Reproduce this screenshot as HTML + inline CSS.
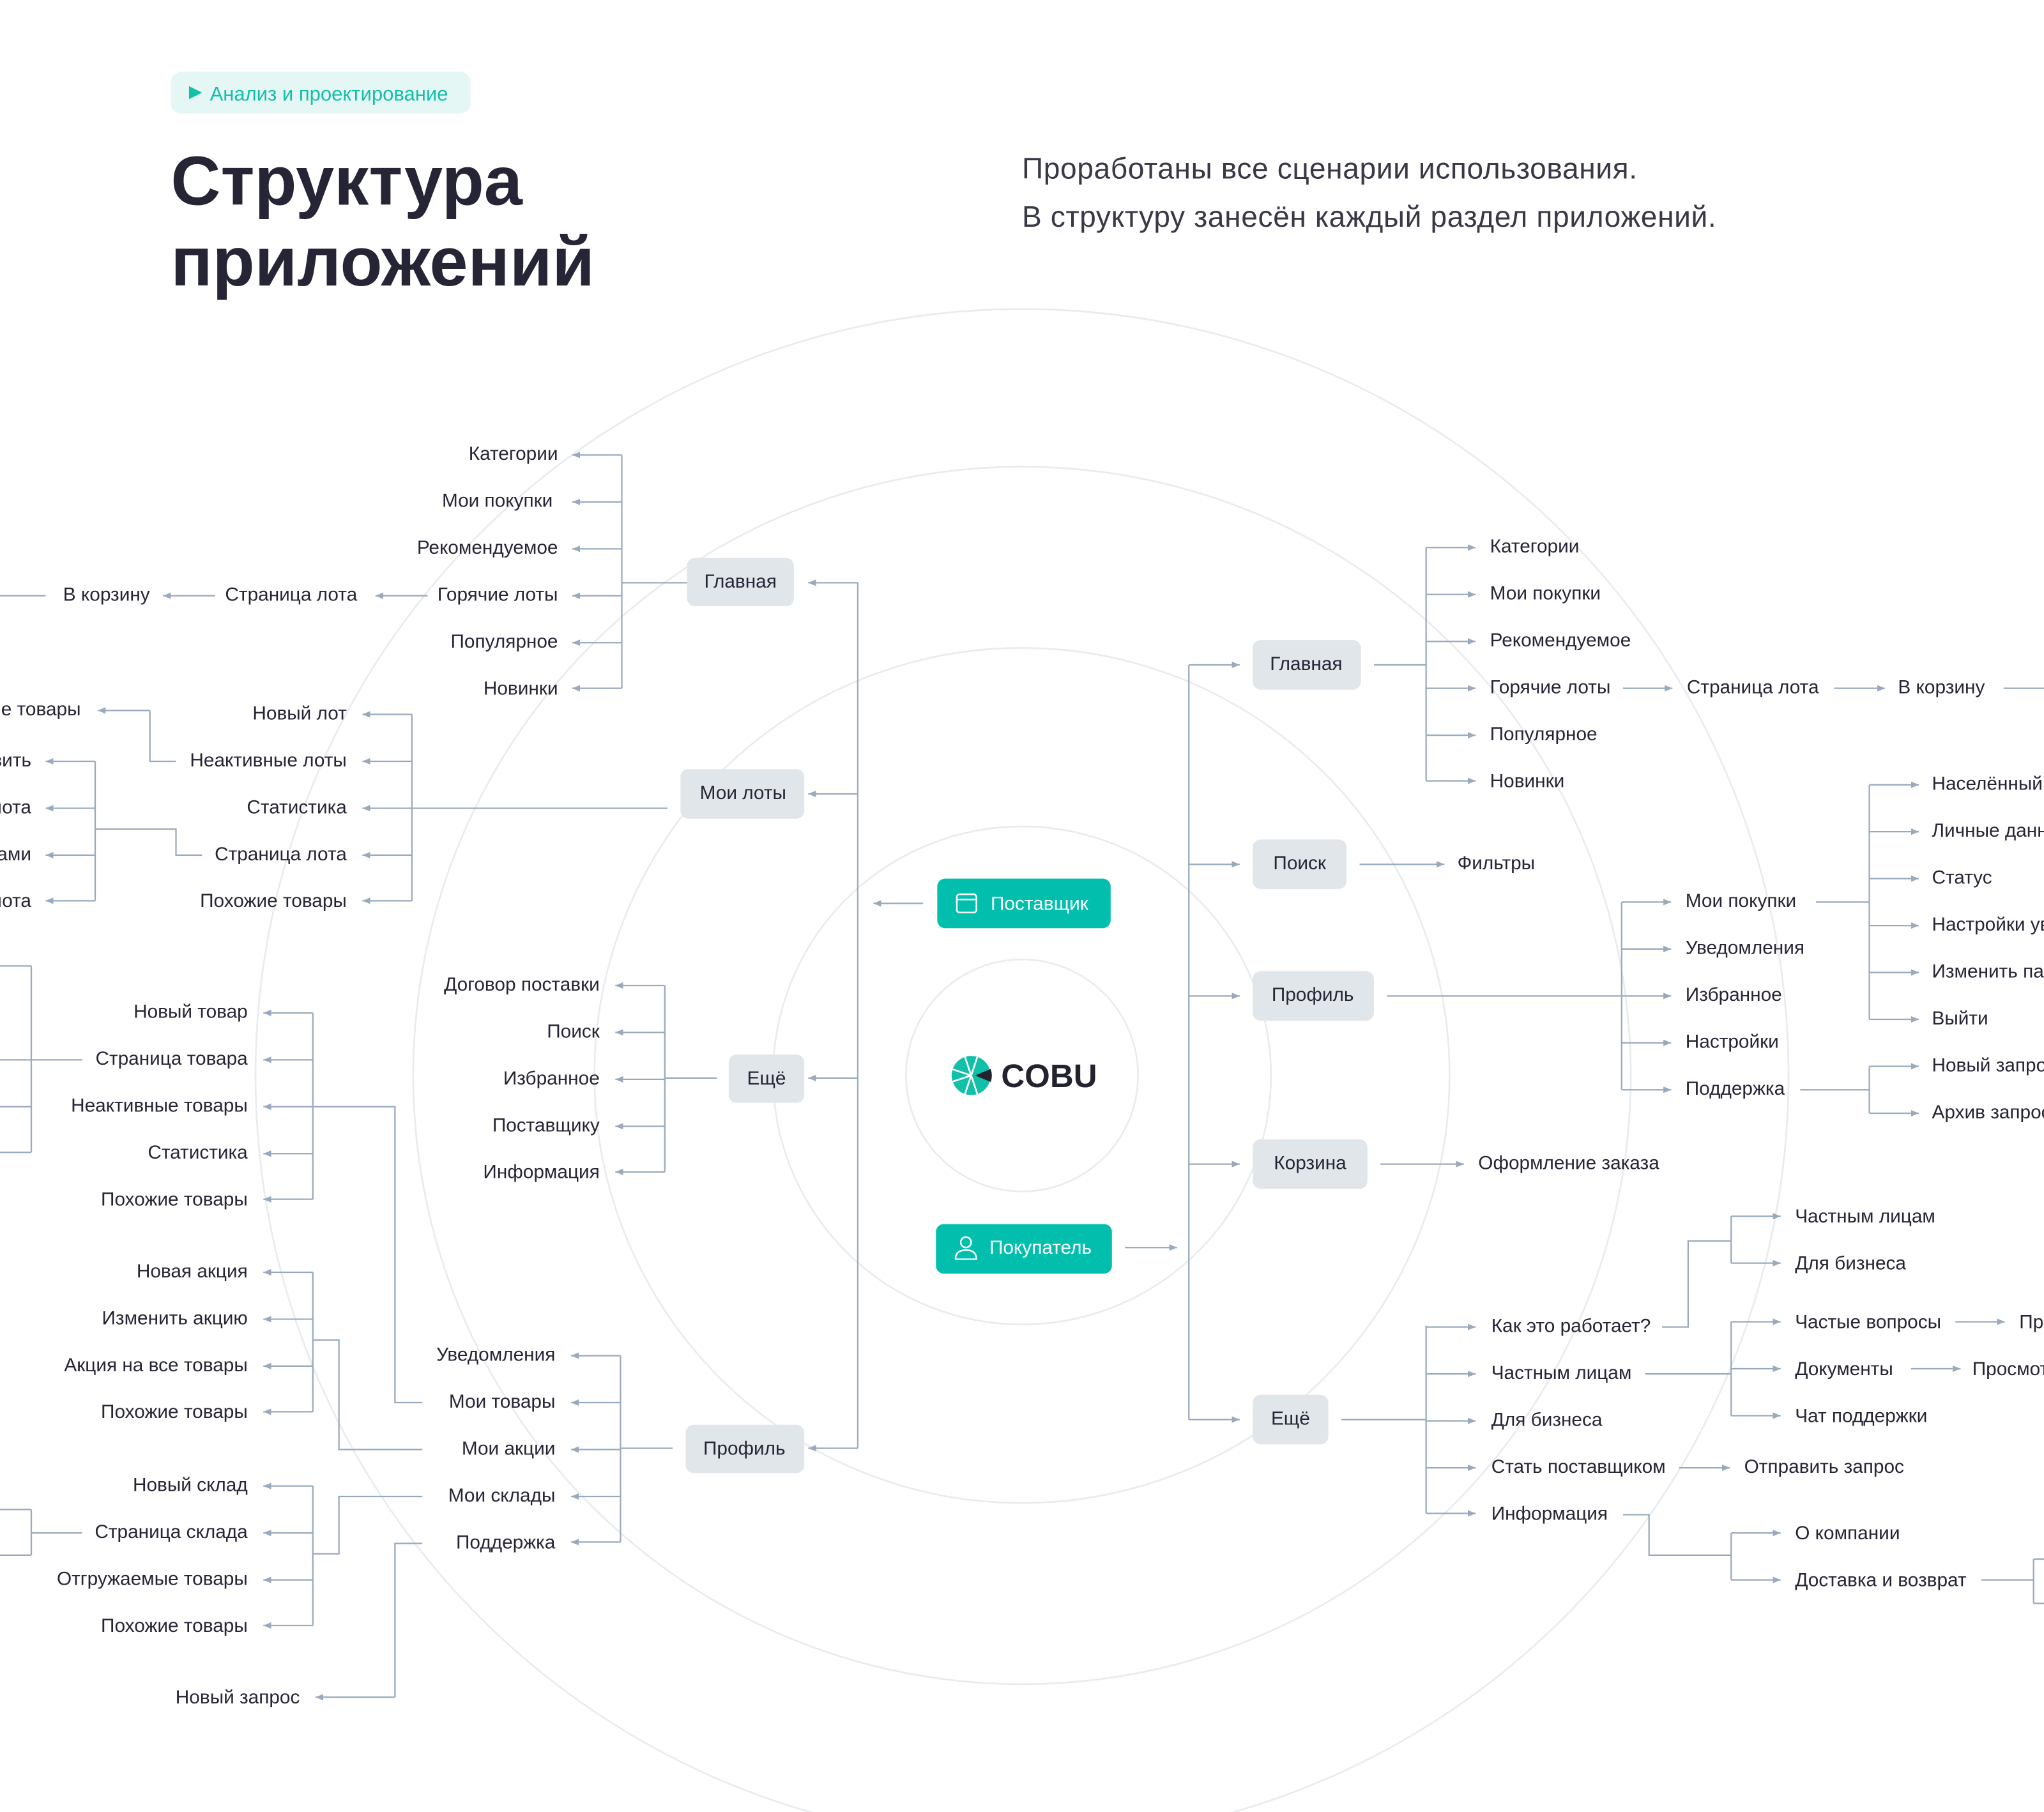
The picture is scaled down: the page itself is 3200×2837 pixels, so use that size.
<!DOCTYPE html>
<html><head><meta charset="utf-8"><style>
html,body{margin:0;padding:0;background:#fff}
svg{display:block}
text{font-family:"Liberation Sans",sans-serif;fill:#262536}
.t{font-size:14.6px;dominant-baseline:middle}
.r{text-anchor:end}
.p{font-size:14.6px;dominant-baseline:middle;text-anchor:middle}
.l{stroke:#98aabd;stroke-width:1.1;fill:none}
.c{stroke:#e8ecef;stroke-width:1.3;fill:none}
.n{fill:#e1e6ea}
</style></head><body>
<svg width="3200" height="2837" viewBox="0 0 1568 1390" xmlns="http://www.w3.org/2000/svg">
<defs><marker id="a" markerUnits="userSpaceOnUse" markerWidth="6" markerHeight="6" refX="6" refY="3" orient="auto"><path d="M0,0.5 L6,3 L0,5.5z" fill="#98aabd"/></marker></defs>
<circle class="c" cx="784" cy="825" r="89"/>
<circle class="c" cx="784" cy="825" r="191"/>
<circle class="c" cx="784" cy="825" r="328"/>
<circle class="c" cx="784" cy="825" r="467"/>
<circle class="c" cx="784" cy="825" r="588"/>

<!-- header -->
<rect x="131" y="55" width="230" height="32" rx="8" fill="#e5f7f4"/>
<path d="M145,66 L155,71 L145,76z" fill="#12bfa8"/>
<text x="161" y="77" style="font-size:15.2px;fill:#12bfa8">Анализ и проектирование</text>
<text x="131" y="157" style="font-size:53px;font-weight:bold">Структура</text>
<text x="131" y="219" style="font-size:53px;font-weight:bold">приложений</text>
<text x="784" y="137" style="font-size:22.6px;fill:#383846;letter-spacing:0.3px">Проработаны все сценарии использования.</text>
<text x="784" y="174" style="font-size:22.6px;fill:#383846;letter-spacing:0.3px">В структуру занесён каждый раздел приложений.</text>

<!-- logo -->
<g transform="translate(745,825)">
<circle r="15" fill="#12bfa8"/>
<g stroke="#fff" stroke-width="1.3"><line x1="0" y1="0" x2="-5" y2="-15"/><line x1="0" y1="0" x2="5" y2="-15"/><line x1="0" y1="0" x2="-15" y2="-5"/><line x1="0" y1="0" x2="-15" y2="5"/><line x1="0" y1="0" x2="-5" y2="15"/><line x1="0" y1="0" x2="5" y2="15"/></g>
<path d="M3,0 L15,-5 A15,15 0 0 1 15,5z" fill="#23222f"/>
</g>
<text x="768" y="834" style="font-size:25px;font-weight:bold;fill:#23222f">COBU</text>

<!-- center pills -->
<rect x="719" y="674" width="133" height="38" rx="6" fill="#02bfad"/>
<rect x="734" y="686" width="15" height="14" rx="2" fill="none" stroke="#fff" stroke-width="1.2"/><line x1="734" y1="690" x2="749" y2="690" stroke="#fff" stroke-width="1.2"/>
<text x="760" y="694" class="t" style="fill:#fff;font-size:14.6px">Поставщик</text>
<rect x="718" y="939" width="135" height="38" rx="6" fill="#02bfad"/>
<circle cx="741" cy="953" r="4" fill="none" stroke="#fff" stroke-width="1.2"/><path d="M733,966 Q733,959 741,959 Q749,959 749,966z" fill="none" stroke="#fff" stroke-width="1.2"/>
<text x="759" y="958" class="t" style="fill:#fff;font-size:14.6px">Покупатель</text>
<line class="l" x1="708" y1="693" x2="670" y2="693" marker-end="url(#a)"/>
<line class="l" x1="863" y1="957" x2="903" y2="957" marker-end="url(#a)"/>

<!-- LEFT main bus -->
<path class="l" d="M658,447 V1111"/>
<line class="l" x1="658" y1="447" x2="620" y2="447" marker-end="url(#a)"/>
<line class="l" x1="658" y1="609" x2="620" y2="609" marker-end="url(#a)"/>
<line class="l" x1="658" y1="827" x2="620" y2="827" marker-end="url(#a)"/>
<line class="l" x1="658" y1="1111" x2="620" y2="1111" marker-end="url(#a)"/>

<!-- Главная left -->
<rect class="n" x="527" y="428" width="82" height="37" rx="6"/><text class="p" x="568" y="447">Главная</text>
<path class="l" d="M527,447 H477 M477,349 V528"/>
<line class="l" x1="477" y1="349" x2="439" y2="349" marker-end="url(#a)"/>
<line class="l" x1="477" y1="385" x2="439" y2="385" marker-end="url(#a)"/>
<line class="l" x1="477" y1="421" x2="439" y2="421" marker-end="url(#a)"/>
<line class="l" x1="477" y1="457" x2="439" y2="457" marker-end="url(#a)"/>
<line class="l" x1="477" y1="493" x2="439" y2="493" marker-end="url(#a)"/>
<line class="l" x1="477" y1="528" x2="439" y2="528" marker-end="url(#a)"/>
<text class="t r" x="428" y="349">Категории</text>
<text class="t r" x="424" y="385">Мои покупки</text>
<text class="t r" x="428" y="421">Рекомендуемое</text>
<text class="t r" x="428" y="457">Горячие лоты</text>
<text class="t r" x="428" y="493">Популярное</text>
<text class="t r" x="428" y="529">Новинки</text>
<line class="l" x1="328" y1="457" x2="288" y2="457" marker-end="url(#a)"/>
<text class="t r" x="274" y="457">Страница лота</text>
<line class="l" x1="165" y1="457" x2="125" y2="457" marker-end="url(#a)"/>
<text class="t r" x="115" y="457">В корзину</text>
<line class="l" x1="0" y1="457" x2="35" y2="457"/>

<!-- Мои лоты left -->
<rect class="n" x="522" y="590" width="95" height="38" rx="6"/><text class="p" x="570" y="609">Мои лоты</text>
<path class="l" d="M512,620 H316 M316,548 V691"/>
<line class="l" x1="316" y1="548" x2="278" y2="548" marker-end="url(#a)"/>
<line class="l" x1="316" y1="584" x2="278" y2="584" marker-end="url(#a)"/>
<line class="l" x1="316" y1="620" x2="278" y2="620" marker-end="url(#a)"/>
<line class="l" x1="316" y1="656" x2="278" y2="656" marker-end="url(#a)"/>
<line class="l" x1="316" y1="691" x2="278" y2="691" marker-end="url(#a)"/>
<text class="t r" x="266" y="548">Новый лот</text>
<text class="t r" x="266" y="584">Неактивные лоты</text>
<text class="t r" x="266" y="620">Статистика</text>
<text class="t r" x="266" y="656">Страница лота</text>
<text class="t r" x="266" y="692">Похожие товары</text>
<path class="l" d="M135,584 H115 V545"/>
<line class="l" x1="115" y1="545" x2="75" y2="545" marker-end="url(#a)"/>
<text class="t r" x="62" y="545">е товары</text>
<path class="l" d="M155,656 H135 V636 H73 M73,584 V691"/>
<line class="l" x1="73" y1="584" x2="35" y2="584" marker-end="url(#a)"/>
<line class="l" x1="73" y1="620" x2="35" y2="620" marker-end="url(#a)"/>
<line class="l" x1="73" y1="656" x2="35" y2="656" marker-end="url(#a)"/>
<line class="l" x1="73" y1="691" x2="35" y2="691" marker-end="url(#a)"/>
<text class="t r" x="24" y="584">вить</text>
<text class="t r" x="24" y="620">лота</text>
<text class="t r" x="24" y="656">ами</text>
<text class="t r" x="24" y="692">лота</text>

<!-- Ещё left -->
<rect class="n" x="559" y="809" width="58" height="37" rx="6"/><text class="p" x="588" y="828">Ещё</text>
<path class="l" d="M550,827 H510 M510,756 V899"/>
<line class="l" x1="510" y1="756" x2="472" y2="756" marker-end="url(#a)"/>
<line class="l" x1="510" y1="792" x2="472" y2="792" marker-end="url(#a)"/>
<line class="l" x1="510" y1="828" x2="472" y2="828" marker-end="url(#a)"/>
<line class="l" x1="510" y1="864" x2="472" y2="864" marker-end="url(#a)"/>
<line class="l" x1="510" y1="899" x2="472" y2="899" marker-end="url(#a)"/>
<text class="t r" x="460" y="756">Договор поставки</text>
<text class="t r" x="460" y="792">Поиск</text>
<text class="t r" x="460" y="828">Избранное</text>
<text class="t r" x="460" y="864">Поставщику</text>
<text class="t r" x="460" y="900">Информация</text>

<!-- Профиль left -->
<rect class="n" x="526" y="1093" width="91" height="37" rx="6"/><text class="p" x="571" y="1112">Профиль</text>
<path class="l" d="M516,1111 H476 M476,1040 V1183"/>
<line class="l" x1="476" y1="1040" x2="438" y2="1040" marker-end="url(#a)"/>
<line class="l" x1="476" y1="1076" x2="438" y2="1076" marker-end="url(#a)"/>
<line class="l" x1="476" y1="1112" x2="438" y2="1112" marker-end="url(#a)"/>
<line class="l" x1="476" y1="1148" x2="438" y2="1148" marker-end="url(#a)"/>
<line class="l" x1="476" y1="1183" x2="438" y2="1183" marker-end="url(#a)"/>
<text class="t r" x="426" y="1040">Уведомления</text>
<text class="t r" x="426" y="1076">Мои товары</text>
<text class="t r" x="426" y="1112">Мои акции</text>
<text class="t r" x="426" y="1148">Мои склады</text>
<text class="t r" x="426" y="1184">Поддержка</text>

<!-- Мои товары -->
<path class="l" d="M324,1076 H303 V849 H240 M240,777 V920"/>
<line class="l" x1="240" y1="777" x2="202" y2="777" marker-end="url(#a)"/>
<line class="l" x1="240" y1="813" x2="202" y2="813" marker-end="url(#a)"/>
<line class="l" x1="240" y1="849" x2="202" y2="849" marker-end="url(#a)"/>
<line class="l" x1="240" y1="885" x2="202" y2="885" marker-end="url(#a)"/>
<line class="l" x1="240" y1="920" x2="202" y2="920" marker-end="url(#a)"/>
<text class="t r" x="190" y="777">Новый товар</text>
<text class="t r" x="190" y="813">Страница товара</text>
<text class="t r" x="190" y="849">Неактивные товары</text>
<text class="t r" x="190" y="885">Статистика</text>
<text class="t r" x="190" y="921">Похожие товары</text>
<path class="l" d="M63,813 H0 M24,741 V884 M0,741 H24 M0,884 H24 M0,849 H24"/>

<!-- Мои акции -->
<path class="l" d="M324,1112 H260 V1028 H240 M240,976 V1083"/>
<line class="l" x1="240" y1="976" x2="202" y2="976" marker-end="url(#a)"/>
<line class="l" x1="240" y1="1012" x2="202" y2="1012" marker-end="url(#a)"/>
<line class="l" x1="240" y1="1048" x2="202" y2="1048" marker-end="url(#a)"/>
<line class="l" x1="240" y1="1083" x2="202" y2="1083" marker-end="url(#a)"/>
<text class="t r" x="190" y="976">Новая акция</text>
<text class="t r" x="190" y="1012">Изменить акцию</text>
<text class="t r" x="190" y="1048">Акция на все товары</text>
<text class="t r" x="190" y="1084">Похожие товары</text>

<!-- Мои склады -->
<path class="l" d="M324,1148 H260 V1192 H240 M240,1140 V1247"/>
<line class="l" x1="240" y1="1140" x2="202" y2="1140" marker-end="url(#a)"/>
<line class="l" x1="240" y1="1176" x2="202" y2="1176" marker-end="url(#a)"/>
<line class="l" x1="240" y1="1212" x2="202" y2="1212" marker-end="url(#a)"/>
<line class="l" x1="240" y1="1247" x2="202" y2="1247" marker-end="url(#a)"/>
<text class="t r" x="190" y="1140">Новый склад</text>
<text class="t r" x="190" y="1176">Страница склада</text>
<text class="t r" x="190" y="1212">Отгружаемые товары</text>
<text class="t r" x="190" y="1248">Похожие товары</text>
<path class="l" d="M63,1176 H24 M24,1158 V1193 M0,1158 H24 M0,1193 H24"/>

<!-- Поддержка -->
<path class="l" d="M324,1184 H303 V1302"/>
<line class="l" x1="303" y1="1302" x2="242" y2="1302" marker-end="url(#a)"/>
<text class="t r" x="230" y="1303">Новый запрос</text>

<!-- RIGHT main bus -->
<path class="l" d="M912,510 V1089"/>
<line class="l" x1="912" y1="510" x2="951" y2="510" marker-end="url(#a)"/>
<line class="l" x1="912" y1="663" x2="951" y2="663" marker-end="url(#a)"/>
<line class="l" x1="912" y1="764" x2="951" y2="764" marker-end="url(#a)"/>
<line class="l" x1="912" y1="893" x2="951" y2="893" marker-end="url(#a)"/>
<line class="l" x1="912" y1="1089" x2="951" y2="1089" marker-end="url(#a)"/>

<!-- Главная right -->
<rect class="n" x="961" y="491" width="83" height="38" rx="6"/><text class="p" x="1002" y="510">Главная</text>
<path class="l" d="M1054,510 H1094 M1094,420 V599"/>
<line class="l" x1="1094" y1="420" x2="1132" y2="420" marker-end="url(#a)"/>
<line class="l" x1="1094" y1="456" x2="1132" y2="456" marker-end="url(#a)"/>
<line class="l" x1="1094" y1="492" x2="1132" y2="492" marker-end="url(#a)"/>
<line class="l" x1="1094" y1="528" x2="1132" y2="528" marker-end="url(#a)"/>
<line class="l" x1="1094" y1="564" x2="1132" y2="564" marker-end="url(#a)"/>
<line class="l" x1="1094" y1="599" x2="1132" y2="599" marker-end="url(#a)"/>
<text class="t" x="1143" y="420">Категории</text>
<text class="t" x="1143" y="456">Мои покупки</text>
<text class="t" x="1143" y="492">Рекомендуемое</text>
<text class="t" x="1143" y="528">Горячие лоты</text>
<text class="t" x="1143" y="564">Популярное</text>
<text class="t" x="1143" y="600">Новинки</text>
<line class="l" x1="1245" y1="528" x2="1283" y2="528" marker-end="url(#a)"/>
<text class="t" x="1294" y="528">Страница лота</text>
<line class="l" x1="1407" y1="528" x2="1446" y2="528" marker-end="url(#a)"/>
<text class="t" x="1456" y="528">В корзину</text>
<line class="l" x1="1537" y1="528" x2="1568" y2="528"/>

<!-- Поиск -->
<rect class="n" x="961" y="644" width="72" height="38" rx="6"/><text class="p" x="997" y="663">Поиск</text>
<line class="l" x1="1043" y1="663" x2="1108" y2="663" marker-end="url(#a)"/>
<text class="t" x="1118" y="663">Фильтры</text>

<!-- Профиль right -->
<rect class="n" x="961" y="745" width="93" height="38" rx="6"/><text class="p" x="1007" y="764">Профиль</text>
<path class="l" d="M1064,764 H1244 M1244,692 V836"/>
<line class="l" x1="1244" y1="692" x2="1282" y2="692" marker-end="url(#a)"/>
<line class="l" x1="1244" y1="728" x2="1282" y2="728" marker-end="url(#a)"/>
<line class="l" x1="1244" y1="764" x2="1282" y2="764" marker-end="url(#a)"/>
<line class="l" x1="1244" y1="800" x2="1282" y2="800" marker-end="url(#a)"/>
<line class="l" x1="1244" y1="836" x2="1282" y2="836" marker-end="url(#a)"/>
<text class="t" x="1293" y="692">Мои покупки</text>
<text class="t" x="1293" y="728">Уведомления</text>
<text class="t" x="1293" y="764">Избранное</text>
<text class="t" x="1293" y="800">Настройки</text>
<text class="t" x="1293" y="836">Поддержка</text>
<path class="l" d="M1393,692 H1434 M1434,602 V782"/>
<line class="l" x1="1434" y1="602" x2="1472" y2="602" marker-end="url(#a)"/>
<line class="l" x1="1434" y1="638" x2="1472" y2="638" marker-end="url(#a)"/>
<line class="l" x1="1434" y1="674" x2="1472" y2="674" marker-end="url(#a)"/>
<line class="l" x1="1434" y1="710" x2="1472" y2="710" marker-end="url(#a)"/>
<line class="l" x1="1434" y1="746" x2="1472" y2="746" marker-end="url(#a)"/>
<line class="l" x1="1434" y1="782" x2="1472" y2="782" marker-end="url(#a)"/>
<text class="t" x="1482" y="602">Населённый пункт</text>
<text class="t" x="1482" y="638">Личные данные</text>
<text class="t" x="1482" y="674">Статус</text>
<text class="t" x="1482" y="710">Настройки уведомлений</text>
<text class="t" x="1482" y="746">Изменить пароль</text>
<text class="t" x="1482" y="782">Выйти</text>
<path class="l" d="M1381,836 H1434 M1434,818 V854"/>
<line class="l" x1="1434" y1="818" x2="1472" y2="818" marker-end="url(#a)"/>
<line class="l" x1="1434" y1="854" x2="1472" y2="854" marker-end="url(#a)"/>
<text class="t" x="1482" y="818">Новый запрос</text>
<text class="t" x="1482" y="854">Архив запросов</text>

<!-- Корзина -->
<rect class="n" x="961" y="874" width="88" height="38" rx="6"/><text class="p" x="1005" y="893">Корзина</text>
<line class="l" x1="1059" y1="893" x2="1123" y2="893" marker-end="url(#a)"/>
<text class="t" x="1134" y="893">Оформление заказа</text>

<!-- Ещё right -->
<rect class="n" x="961" y="1070" width="58" height="38" rx="6"/><text class="p" x="990" y="1089">Ещё</text>
<path class="l" d="M1029,1089 H1094 M1094,1017 V1161"/>
<line class="l" x1="1094" y1="1018" x2="1132" y2="1018" marker-end="url(#a)"/>
<line class="l" x1="1094" y1="1054" x2="1132" y2="1054" marker-end="url(#a)"/>
<line class="l" x1="1094" y1="1090" x2="1132" y2="1090" marker-end="url(#a)"/>
<line class="l" x1="1094" y1="1126" x2="1132" y2="1126" marker-end="url(#a)"/>
<line class="l" x1="1094" y1="1161" x2="1132" y2="1161" marker-end="url(#a)"/>
<text class="t" x="1144" y="1018">Как это работает?</text>
<text class="t" x="1144" y="1054">Частным лицам</text>
<text class="t" x="1144" y="1090">Для бизнеса</text>
<text class="t" x="1144" y="1126">Стать поставщиком</text>
<text class="t" x="1144" y="1162">Информация</text>
<path class="l" d="M1275,1018 H1295 V952 H1328 M1328,933 V969"/>
<line class="l" x1="1328" y1="933" x2="1366" y2="933" marker-end="url(#a)"/>
<line class="l" x1="1328" y1="969" x2="1366" y2="969" marker-end="url(#a)"/>
<text class="t" x="1377" y="934">Частным лицам</text>
<text class="t" x="1377" y="970">Для бизнеса</text>
<path class="l" d="M1262,1054 H1328 M1328,1014 V1086"/>
<line class="l" x1="1328" y1="1014" x2="1366" y2="1014" marker-end="url(#a)"/>
<line class="l" x1="1328" y1="1050" x2="1366" y2="1050" marker-end="url(#a)"/>
<line class="l" x1="1328" y1="1086" x2="1366" y2="1086" marker-end="url(#a)"/>
<text class="t" x="1377" y="1015">Частые вопросы</text>
<text class="t" x="1377" y="1051">Документы</text>
<text class="t" x="1377" y="1087">Чат поддержки</text>
<line class="l" x1="1500" y1="1014" x2="1538" y2="1014" marker-end="url(#a)"/>
<text class="t" x="1549" y="1015">Просмотр</text>
<line class="l" x1="1466" y1="1050" x2="1504" y2="1050" marker-end="url(#a)"/>
<text class="t" x="1513" y="1051">Просмотр</text>
<line class="l" x1="1288" y1="1126" x2="1327" y2="1126" marker-end="url(#a)"/>
<text class="t" x="1338" y="1126">Отправить запрос</text>
<path class="l" d="M1245,1162 H1265 V1193 H1328 M1328,1176 V1212"/>
<line class="l" x1="1328" y1="1176" x2="1366" y2="1176" marker-end="url(#a)"/>
<line class="l" x1="1328" y1="1212" x2="1366" y2="1212" marker-end="url(#a)"/>
<text class="t" x="1377" y="1177">О компании</text>
<text class="t" x="1377" y="1213">Доставка и возврат</text>
<path class="l" d="M1520,1212 H1560 M1560,1196 V1230 M1560,1196 H1568 M1560,1230 H1568"/>
</svg>
</body></html>
